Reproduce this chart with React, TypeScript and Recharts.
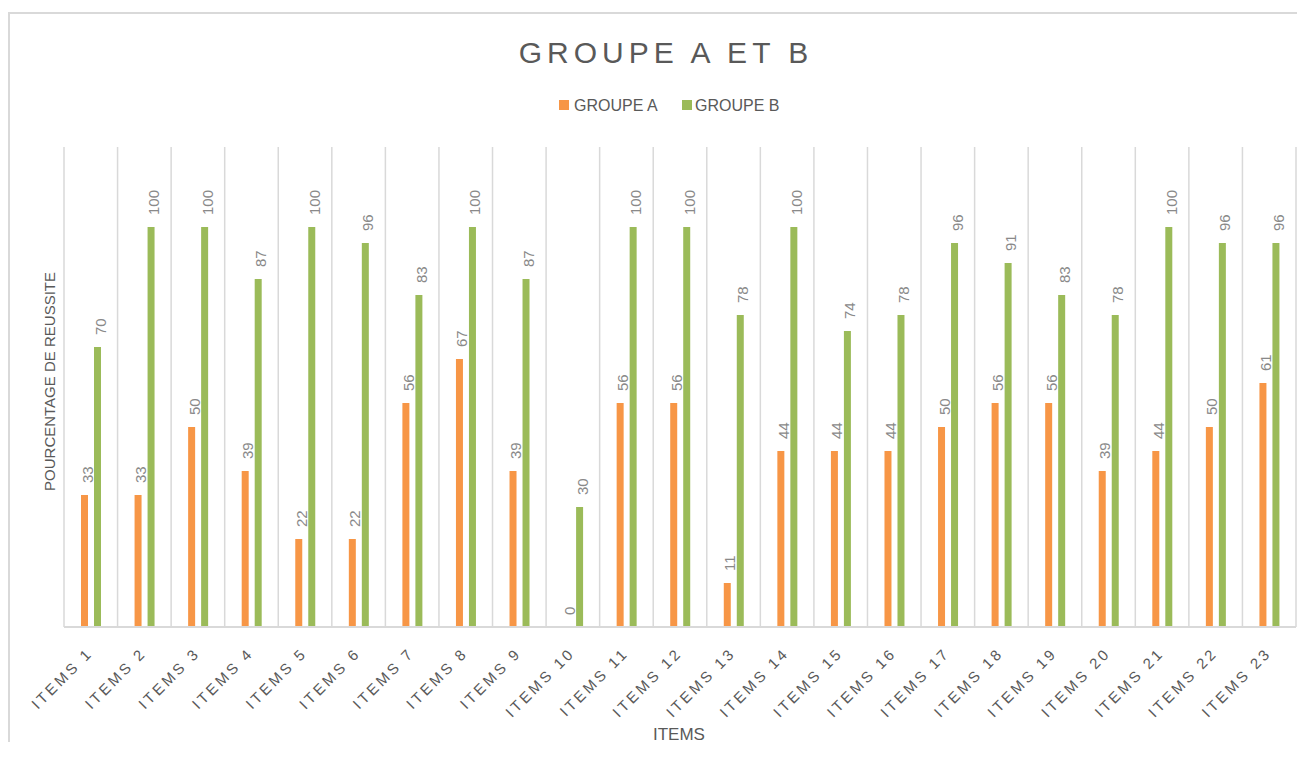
import React from "react";
import { BarChart, Bar, XAxis, YAxis, CartesianGrid, LabelList } from "recharts";

const ITEMS = [
  "ITEMS 1", "ITEMS 2", "ITEMS 3", "ITEMS 4", "ITEMS 5", "ITEMS 6", "ITEMS 7", "ITEMS 8",
  "ITEMS 9", "ITEMS 10", "ITEMS 11", "ITEMS 12", "ITEMS 13", "ITEMS 14", "ITEMS 15", "ITEMS 16",
  "ITEMS 17", "ITEMS 18", "ITEMS 19", "ITEMS 20", "ITEMS 21", "ITEMS 22", "ITEMS 23",
];
const GROUPE_A = [33, 33, 50, 39, 22, 22, 56, 67, 39, 0, 56, 56, 11, 44, 44, 44, 50, 56, 56, 39, 44, 50, 61];
const GROUPE_B = [70, 100, 100, 87, 100, 96, 83, 100, 87, 30, 100, 100, 78, 100, 74, 78, 96, 91, 83, 78, 100, 96, 96];
const Y_DOMAIN = [0, 120];

const ORANGE = "#F79646";
const GREEN = "#9BBB59";
const GRID = "#d9d9d9";
const TEXT = "#595959";
const FONT = "'Liberation Sans', Arial, sans-serif";

const data = ITEMS.map((item, i) => ({ item, a: GROUPE_A[i], b: GROUPE_B[i] }));

const ItemTick = (props: any) => {
  const { x, y, payload } = props;
  const tx = x + 3;
  const ty = y + 27;
  return (
    <text
      x={tx}
      y={ty}
      transform={`rotate(-45, ${tx}, ${ty})`}
      textAnchor="end"
      fontSize={15}
      letterSpacing={3}
      fill={TEXT}
      fontFamily={FONT}
    >
      {payload.value}
    </text>
  );
};

const ValueLabel = (props: any) => {
  const { x, y, width, height, value } = props;
  // zero-value bars get a hairline height, keep the label sitting on the baseline
  const top = Math.abs(height) < 1 ? y + height : y;
  const px = x + width / 2 + 8;
  const py = top - 12;
  return (
    <text
      x={px}
      y={py}
      transform={`rotate(-90, ${px}, ${py})`}
      textAnchor="start"
      fontSize={15}
      fill="#898989"
      fontFamily={FONT}
    >
      {value}
    </text>
  );
};

export default function App() {
  return (
    <div
      style={{
        position: "relative",
        marginTop: 4,
        width: 1287,
        height: 728,
        borderTop: `2px solid ${GRID}`,
        borderLeft: `2px solid ${GRID}`,
        fontFamily: FONT,
      }}
    >
      <BarChart
        width={1287}
        height={728}
        data={data}
        margin={{ top: 133, right: 1, left: 54, bottom: 15 }}
        barSize={7}
        barGap={6}
      >
        <CartesianGrid
          horizontal={false}
          stroke={GRID}
          strokeWidth={1.5}
          verticalCoordinatesGenerator={({ offset }: any) =>
            Array.from({ length: ITEMS.length + 1 }, (_, i) => offset.left + (i * offset.width) / ITEMS.length)
          }
        />
        <XAxis
          dataKey="item"
          interval={0}
          height={100}
          tickLine={false}
          tickSize={0}
          tickMargin={0}
          axisLine={{ stroke: GRID, strokeWidth: 2 }}
          tick={<ItemTick />}
        />
        <YAxis hide domain={Y_DOMAIN} />
        <Bar dataKey="a" name="GROUPE A" fill={ORANGE} minPointSize={0.01} isAnimationActive={false}>
          <LabelList dataKey="a" content={<ValueLabel />} />
        </Bar>
        <Bar dataKey="b" name="GROUPE B" fill={GREEN} isAnimationActive={false}>
          <LabelList dataKey="b" content={<ValueLabel />} />
        </Bar>
      </BarChart>
      <svg
        width={1287}
        height={745}
        style={{ position: "absolute", left: 0, top: 0, pointerEvents: "none", overflow: "visible" }}
      >
        <text x={656} y={49.3} textAnchor="middle" fontSize={30} letterSpacing={5} fill={TEXT} fontFamily={FONT}>
          GROUPE A ET B
        </text>
        <rect x={549} y={86} width={10} height={10} fill={ORANGE} />
        <text x={564} y={96.7} fontSize={16} fill={TEXT} fontFamily={FONT}>
          GROUPE A
        </text>
        <rect x={672} y={86} width={10} height={10} fill={GREEN} />
        <text x={685} y={96.7} fontSize={16} fill={TEXT} fontFamily={FONT}>
          GROUPE B
        </text>
        <text
          x={39.7}
          y={367.5}
          transform="rotate(-90, 39.7, 367.5)"
          textAnchor="middle"
          dominantBaseline="central"
          fontSize={15}
          fill={TEXT}
          fontFamily={FONT}
        >
          POURCENTAGE DE REUSSITE
        </text>
        <text x={669} y={726} textAnchor="middle" fontSize={17} fill={TEXT} fontFamily={FONT}>
          ITEMS
        </text>
      </svg>
    </div>
  );
}
